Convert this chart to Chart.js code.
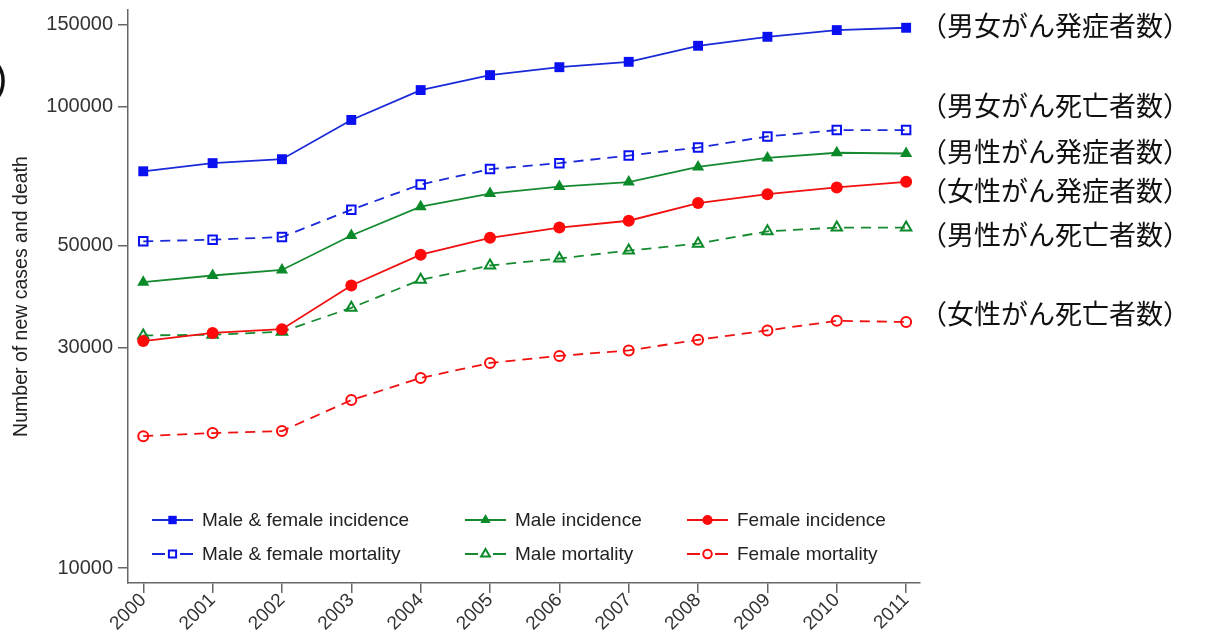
<!DOCTYPE html>
<html>
<head>
<meta charset="utf-8">
<script src="https://cdn.jsdelivr.net/npm/chart.js@4.4.1/dist/chart.umd.min.js"></script>
<style>
  html, body { margin: 0; padding: 0; background: #fff; }
  #wrap { position: relative; width: 1221px; height: 631px; overflow: hidden; }
  #c { position: absolute; left: 0; top: 0; }
  .jp { position: absolute; left: 920px; font-family: "Noto Sans CJK JP", sans-serif; font-size: 27px;
        line-height: 1; color: #111; white-space: nowrap; transform: translateY(-50%); }
  .paren { position: absolute; left: -6px; top: 58px; font-family: "Liberation Sans", sans-serif;
           font-size: 40px; line-height: 1; color: #111; }
</style>
</head>
<body>
<div id="wrap">
  <canvas id="c" width="1221" height="631"></canvas>
  <div class="paren">)</div>
</div>
<script>
// Years on the x axis
const years = [2000, 2001, 2002, 2003, 2004, 2005, 2006, 2007, 2008, 2009, 2010, 2011];

// Annual counts (new cases / deaths)
const mfIncidence     = [72300, 75300, 76800, 93400, 108400, 116800, 121500, 124800, 135200, 141400, 146200, 147900];
const mfMortality     = [51000, 51400, 52100, 59700, 67700, 73100, 75300, 78200, 81400, 86000, 88800, 88800];
const maleIncidence   = [41600, 43000, 44200, 52500, 60600, 64700, 67000, 68500, 73900, 77300, 79300, 79000];
const femaleIncidence = [31000, 32300, 32900, 40900, 47700, 51900, 54600, 56500, 61700, 64500, 66700, 68600];
const maleMortality   = [31900, 32000, 32500, 36600, 42100, 45200, 46800, 48700, 50400, 53600, 54600, 54600];
const femaleMortality = [19300, 19600, 19800, 23100, 25800, 27800, 28800, 29600, 31200, 32700, 34300, 34100];

// Y tick values shown on the log axis
const yTickValues = [10000, 30000, 50000, 100000, 150000];

// Series names for the legend and the Japanese side labels
const seriesNames = ['Male & female incidence', 'Male & female mortality', 'Male incidence',
                     'Female incidence', 'Male mortality', 'Female mortality'];
const sideLabels = ['（男女がん発症者数）', '（男女がん死亡者数）', '（男性がん発症者数）',
                    '（女性がん発症者数）', '（男性がん死亡者数）', '（女性がん死亡者数）'];
const sideLabelTops = [24, 104, 150, 189, 233, 312];

const BLUE = '#0a10f0', BLUE_LINE = '#1a2ad8';
const GREEN = '#0b8a2a', GREEN_LINE = '#168a30';
const RED = '#ff0a0a', RED_LINE = '#f01010';
const DASH = [10, 7];

function pts(vals) { return years.map((y, i) => ({ x: y, y: vals[i] })); }

function series(label, vals, opts) {
  return Object.assign({
    label, data: pts(vals), fill: false, tension: 0,
    borderWidth: 1.8, pointBorderWidth: 2, pointHoverRadius: 6
  }, opts);
}

const datasets = [
  series(seriesNames[0], mfIncidence, { borderColor: BLUE_LINE, pointStyle: 'rect', pointRadius: 7,
    pointBackgroundColor: BLUE, pointBorderColor: BLUE, pointBorderWidth: 0, legendSlot: [0, 0] }),
  series(seriesNames[1], mfMortality, { borderColor: BLUE_LINE, borderDash: DASH, pointStyle: 'rect', pointRadius: 6,
    pointBackgroundColor: 'rgba(0,0,0,0)', pointBorderColor: BLUE, legendSlot: [0, 1] }),
  series(seriesNames[2], maleIncidence, { borderColor: GREEN_LINE, pointStyle: 'triangle', pointRadius: 7,
    pointBackgroundColor: GREEN, pointBorderColor: GREEN, pointBorderWidth: 0, legendSlot: [1, 0] }),
  series(seriesNames[3], femaleIncidence, { borderColor: RED_LINE, pointStyle: 'circle', pointRadius: 6,
    pointBackgroundColor: RED, pointBorderColor: RED, pointBorderWidth: 0, legendSlot: [2, 0] }),
  series(seriesNames[4], maleMortality, { borderColor: GREEN_LINE, borderDash: DASH, pointStyle: 'triangle', pointRadius: 6,
    pointBackgroundColor: 'rgba(0,0,0,0)', pointBorderColor: GREEN, legendSlot: [1, 1] }),
  series(seriesNames[5], femaleMortality, { borderColor: RED_LINE, borderDash: DASH, pointStyle: 'circle', pointRadius: 5,
    pointBackgroundColor: 'rgba(0,0,0,0)', pointBorderColor: RED, legendSlot: [2, 1] })
];

// Legend drawn inside the lower part of the plot area, two rows by three columns
const insideLegend = {
  id: 'insideLegend',
  afterDatasetsDraw(chart) {
    const { ctx, chartArea } = chart;
    const colX = [24, 337, 559];
    const rowY = [-63, -29];
    const sampleLen = 41;
    chart.data.datasets.forEach(ds => {
      const [col, row] = ds.legendSlot;
      const x0 = chartArea.left + colX[col];
      const y = chartArea.bottom + rowY[row];
      ctx.save();
      ctx.strokeStyle = ds.borderColor;
      ctx.lineWidth = ds.borderWidth;
      ctx.beginPath();
      if (ds.borderDash) {
        ctx.moveTo(x0, y); ctx.lineTo(x0 + 13, y);
        ctx.moveTo(x0 + sampleLen - 13, y); ctx.lineTo(x0 + sampleLen, y);
      } else {
        ctx.moveTo(x0, y); ctx.lineTo(x0 + sampleLen, y);
      }
      ctx.stroke();
      ctx.fillStyle = ds.pointBackgroundColor;
      ctx.strokeStyle = ds.pointBorderColor;
      ctx.lineWidth = ds.pointBorderWidth;
      Chart.helpers.drawPoint(ctx, {
        pointStyle: ds.pointStyle, radius: ds.pointRadius * 0.85, rotation: 0, borderWidth: ds.pointBorderWidth
      }, x0 + sampleLen / 2, y);
      ctx.fillStyle = '#222';
      ctx.font = '19px "Liberation Sans", Arial, sans-serif';
      ctx.textBaseline = 'middle';
      ctx.textAlign = 'left';
      ctx.fillText(ds.label, x0 + sampleLen + 9, y + 1);
      ctx.restore();
    });
  }
};

const AXIS = '#666';
const TICK_FONT = { family: '"Liberation Sans", Arial, sans-serif', size: 20 };

new Chart(document.getElementById('c'), {
  type: 'line',
  data: { datasets },
  options: {
    responsive: false,
    animation: false,
    devicePixelRatio: 1,
    layout: { padding: { left: 0, right: 301, top: 10, bottom: 0 } },
    plugins: { legend: { display: false }, tooltip: { enabled: false }, title: { display: false } },
    scales: {
      x: {
        type: 'linear',
        min: 1999.78,
        max: 2011.2,
        afterBuildTicks(scale) { scale.ticks = years.map(v => ({ value: v })); },
        afterFit(scale) { scale.height = 48; scale.paddingLeft = 0; scale.paddingRight = 0; },
        ticks: {
          autoSkip: false, maxRotation: 45, minRotation: 45, padding: -4,
          color: '#333', font: { family: '"Liberation Sans", Arial, sans-serif', size: 19 },
          callback: v => String(v)
        },
        grid: { display: true, drawOnChartArea: false, drawTicks: true, tickLength: 10, color: AXIS, lineWidth: 1.5 },
        border: { display: true, color: AXIS, width: 1.5 }
      },
      y: {
        type: 'logarithmic',
        min: 9280,
        max: 161600,
        afterBuildTicks(scale) { scale.ticks = yTickValues.map(v => ({ value: v })); },
        afterFit(scale) { scale.width = 128; scale.paddingTop = 0; scale.paddingBottom = 0; },
        ticks: {
          autoSkip: false, padding: 5, color: '#333', font: TICK_FONT,
          callback: v => String(v)
        },
        grid: { display: true, drawOnChartArea: false, drawTicks: true, tickLength: 10, color: AXIS, lineWidth: 1.5 },
        border: { display: true, color: AXIS, width: 1.5 },
        title: {
          display: true, text: 'Number of new cases and death', color: '#222',
          font: { family: '"Liberation Sans", Arial, sans-serif', size: 19.5 },
          padding: { top: 10, bottom: 0 }
        }
      }
    }
  },
  plugins: [insideLegend]
});

// Japanese series labels at the right of the plot
const wrap = document.getElementById('wrap');
sideLabels.forEach((txt, i) => {
  const d = document.createElement('div');
  d.className = 'jp';
  d.style.top = sideLabelTops[i] + 'px';
  d.textContent = txt;
  wrap.appendChild(d);
});
</script>
</body>
</html>
